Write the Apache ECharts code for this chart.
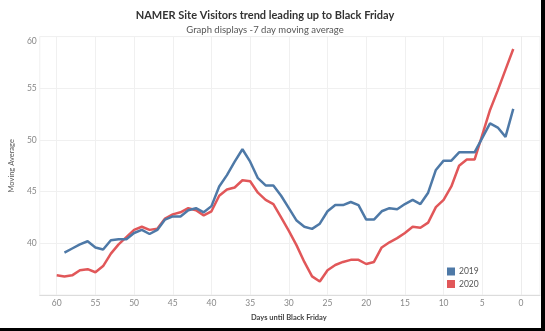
<!DOCTYPE html>
<html>
<head>
<meta charset="utf-8">
<script src="https://cdn.jsdelivr.net/npm/echarts@6/dist/echarts.min.js"></script>
<style>
  html, body { margin: 0; padding: 0; background: #000; }
  #c { width: 541px; height: 328px; background: #fff; }
</style>
</head>
<body>
<div id="c"></div>
<script>
const titleText = 'NAMER Site Visitors trend leading up to Black Friday';
const subtitleText = 'Graph displays -7 day moving average';
const xAxisTitle = 'Days until Black Friday';
const yAxisTitle = 'Moving Average';
const seriesNames = ['2019', '2020'];

const days = [60,59,58,57,56,55,54,53,52,51,50,49,48,47,46,45,44,43,42,41,
              40,39,38,37,36,35,34,33,32,31,30,29,28,27,26,25,24,23,22,21,
              20,19,18,17,16,15,14,13,12,11,10,9,8,7,6,5,4,3,2,1];

const values2019 = [null,39.1,39.5,39.9,40.2,39.6,39.4,40.3,40.4,40.4,
                    41.0,41.3,40.9,41.3,42.3,42.6,42.6,43.2,43.4,43.0,
                    43.6,45.5,46.6,47.9,49.1,47.9,46.3,45.6,45.6,44.6,
                    43.4,42.2,41.6,41.4,41.9,43.1,43.7,43.7,44.0,43.7,
                    42.3,42.3,43.1,43.4,43.3,43.8,44.2,43.8,44.9,47.1,
                    48.0,48.0,48.8,48.8,48.8,50.2,51.6,51.2,50.3,53.0];

const values2020 = [36.9,36.8,36.9,37.4,37.5,37.2,37.8,39.0,39.9,40.6,
                    41.3,41.6,41.3,41.4,42.4,42.8,43.0,43.4,43.2,42.7,
                    43.1,44.6,45.2,45.4,46.1,46.0,44.9,44.2,43.8,42.5,
                    41.2,39.8,38.2,36.8,36.3,37.4,37.9,38.2,38.4,38.4,
                    38.0,38.2,39.6,40.1,40.5,41.0,41.6,41.5,42.0,43.5,
                    44.2,45.5,47.5,48.1,48.1,50.5,52.9,54.8,56.8,58.8];

const yTicks = { min: 35, max: 60, interval: 5 };
const xTicks = { min: 0, max: 60, interval: 5 };
const xPad = { min: -2.5, max: 64 };

const toPairs = vals => days.map((d, i) => [d, vals[i]]);

const FONT = 'Lato';
const chart = echarts.init(document.getElementById('c'), null, { renderer: 'canvas' });

chart.setOption({
  animation: false,
  backgroundColor: '#fff',
  textStyle: { fontFamily: FONT },
  title: [
    { text: titleText, left: 260, top: 5, textAlign: 'center',
      textStyle: { fontFamily: FONT, fontSize: 11, fontWeight: 'bold', color: '#333' } },
    { text: subtitleText, left: 260, top: 19.5, textAlign: 'center',
      textStyle: { fontFamily: FONT, fontSize: 9.5, fontWeight: 'normal', color: '#555' } }
  ],
  legend: {
    orient: 'vertical', left: 442, top: 262,
    itemWidth: 8, itemHeight: 8, itemGap: 3.5,
    icon: 'rect',
    textStyle: { fontFamily: FONT, fontSize: 8.5, color: '#555', padding: [0,0,0,-1] },
    data: seriesNames
  },
  grid: [
    { left: 26, right: 1, top: 36.6, bottom: 33, show: true, borderColor: '#f0f0f0', borderWidth: 1 },
    { left: 56.7, right: 20, top: 36.6, bottom: 33 }
  ],
  xAxis: [
    { gridIndex: 0, type: 'value', min: xPad.min, max: xPad.max, inverse: true,
      axisLine: { show: true, lineStyle: { color: '#dcdcdc', width: 1 } },
      axisTick: { show: false }, axisLabel: { show: false }, splitLine: { show: false } },
    { gridIndex: 1, type: 'value', min: xTicks.min, max: xTicks.max, interval: xTicks.interval, inverse: true,
      name: xAxisTitle, nameLocation: 'middle', nameGap: 19,
      nameTextStyle: { fontFamily: FONT, fontSize: 7.5, fontWeight: 'bold', color: '#444' },
      axisLine: { show: false }, axisTick: { show: false },
      axisLabel: { fontFamily: FONT, fontSize: 8.5, color: '#888', margin: 4 },
      splitLine: { show: true, lineStyle: { color: '#f0f0f0', width: 1 } } }
  ],
  yAxis: [
    { gridIndex: 0, type: 'value', min: yTicks.min, max: yTicks.max, interval: yTicks.interval,
      name: yAxisTitle, nameLocation: 'middle', nameGap: 16, nameRotate: 90,
      nameTextStyle: { fontFamily: FONT, fontSize: 7.5, color: '#555' },
      axisLine: { show: true, lineStyle: { color: '#ececec' } }, axisTick: { show: false },
      axisLabel: { fontFamily: FONT, fontSize: 8.5, color: '#888', margin: 3,
        formatter: v => (v === yTicks.min ? '' : (v === yTicks.max ? '{t|' + v + '}' : String(v))),
        rich: { t: { fontFamily: FONT, fontSize: 8.5, color: '#888', padding: [9, 0, 0, 0] } } },
      splitLine: { show: true, lineStyle: { color: '#f0f0f0', width: 1 } } },
    { gridIndex: 1, type: 'value', min: yTicks.min, max: yTicks.max, interval: yTicks.interval,
      axisLine: { show: false }, axisTick: { show: false }, axisLabel: { show: false }, splitLine: { show: false } }
  ],
  series: [
    { name: seriesNames[0], type: 'line', xAxisIndex: 1, yAxisIndex: 1,
      data: toPairs(values2019), showSymbol: false, symbol: 'none', smooth: false,
      connectNulls: false, lineStyle: { color: '#4E79A7', width: 2.5 }, itemStyle: { color: '#4E79A7' }, z: 3 },
    { name: seriesNames[1], type: 'line', xAxisIndex: 1, yAxisIndex: 1,
      data: toPairs(values2020), showSymbol: false, symbol: 'none', smooth: false,
      lineStyle: { color: '#E15759', width: 2.5 }, itemStyle: { color: '#E15759' }, z: 2 }
  ]
});
</script>
</body>
</html>
